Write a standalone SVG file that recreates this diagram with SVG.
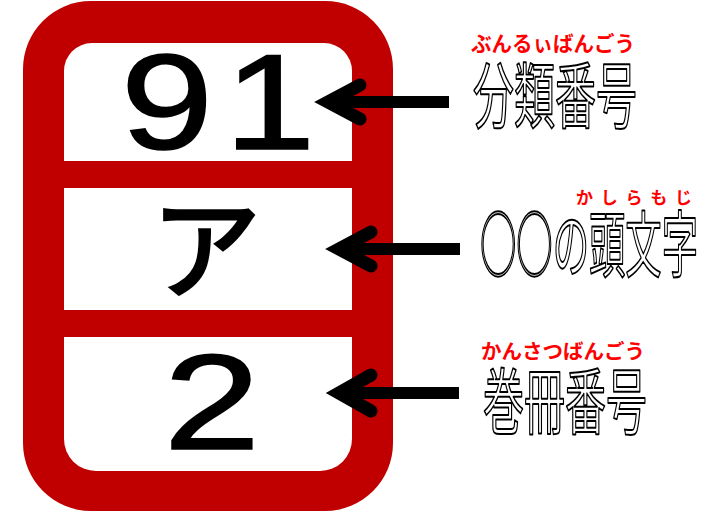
<svg xmlns="http://www.w3.org/2000/svg" width="722" height="512" viewBox="0 0 722 512">
<style>
.digit{font-family:"Liberation Sans",Arial,sans-serif;font-size:136px;fill:#000;stroke:#000;stroke-width:1.6;text-anchor:middle}
.kana{font-family:"Noto Sans CJK JP",sans-serif;font-size:110px;fill:#000;stroke:#000;stroke-width:3;text-anchor:middle}
.label{font-family:"Noto Sans CJK JP",sans-serif;font-size:72px;fill:#fff;stroke:#000;stroke-width:2;stroke-linejoin:round}
.ruby{font-family:"Noto Sans CJK JP",sans-serif;font-weight:bold;fill:#ff0000}
.shaft{stroke:#000;stroke-width:12;fill:none}
.head{stroke:#000;stroke-width:13;fill:none;stroke-linecap:round;stroke-linejoin:miter;stroke-miterlimit:10}
</style>
<rect width="722" height="512" fill="#fff"/>
<g id="label-frame">
<rect x="23" y="1" width="370" height="510" rx="68" ry="68" fill="#c00000"/>
</g>
<g id="panel-class">
<path d="M64,71 a28,28 0 0 1 28,-28 H324 a28,28 0 0 1 28,28 V161 H64 Z" fill="#fff"/>
<text class="digit" transform="translate(167,149) scale(1.22,1)">9</text>
<text class="digit" transform="translate(270,149) scale(1.2,1)">1</text>
</g>
<g id="panel-initial">
<rect x="64" y="188" width="288" height="122" fill="#fff"/>
<text class="kana" x="206" y="290">ア</text>
</g>
<g id="panel-volume">
<path d="M64,337 H352 V439 a32,32 0 0 1 -32,32 H96 a32,32 0 0 1 -32,-32 Z" fill="#fff"/>
<text class="digit" transform="translate(212,449) scale(1.28,1)">2</text>
</g>
<g id="connectors">
<line class="shaft" x1="330" y1="102" x2="449" y2="102"/>
<polyline class="head" points="360,85 328,102 360,119"/>
<line class="shaft" x1="341" y1="249" x2="460" y2="249"/>
<polyline class="head" points="371,232 339,249 371,266"/>
<line class="shaft" x1="341" y1="393" x2="459" y2="393"/>
<polyline class="head" points="371,375 339,393 371,411"/>
</g>
<g id="note-class">
<text class="ruby" x="471" y="51" font-size="21" textLength="164" lengthAdjust="spacingAndGlyphs">ぶんるぃばんごう</text>
<text class="label" x="473" y="122" textLength="164" lengthAdjust="spacingAndGlyphs">分類番号</text>
</g>
<g id="note-initial">
<text class="ruby" x="576" y="204" font-size="17" textLength="116" lengthAdjust="spacing">かしらもじ</text>
<text class="label" x="480" y="271" textLength="218" lengthAdjust="spacingAndGlyphs">○○の頭文字</text>
</g>
<g id="note-volume">
<text class="ruby" x="481" y="359" font-size="20" textLength="164" lengthAdjust="spacingAndGlyphs">かんさつばんごう</text>
<text class="label" x="483" y="428" textLength="164" lengthAdjust="spacingAndGlyphs">巻冊番号</text>
</g>
</svg>
